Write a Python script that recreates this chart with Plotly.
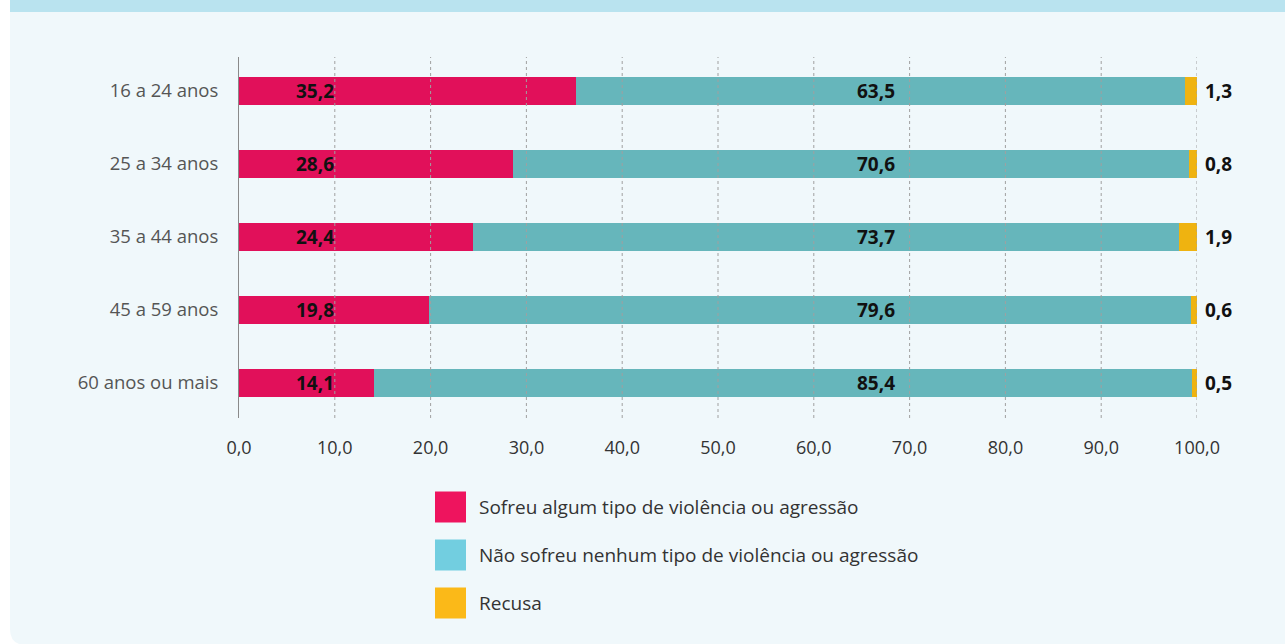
import plotly.graph_objects as go

# ---- data ----
categories = ["16 a 24 anos", "25 a 34 anos", "35 a 44 anos", "45 a 59 anos", "60 anos ou mais"]
sofreu = [35.2, 28.6, 24.4, 19.8, 14.1]
nao_sofreu = [63.5, 70.6, 73.7, 79.6, 85.4]
recusa = [1.3, 0.8, 1.9, 0.6, 0.5]
series_names = [
    "Sofreu algum tipo de violência ou agressão",
    "Não sofreu nenhum tipo de violência ou agressão",
    "Recusa",
]
x_ticks = [0, 10, 20, 30, 40, 50, 60, 70, 80, 90, 100]

# ---- style ----
W, H = 1285, 644
L, R, T, B = 239, 88, 57, 226
bar_colors = ["#e1105a", "#66b6bb", "#efb310"]
legend_colors = ["#ee145e", "#72cee0", "#fbb918"]
panel = "#f0f8fb"
band = "#b9e3ef"
FONT = "Open Sans"

pw, ph = W - L - R, H - T - B


def px(x):
    return (x - L) / pw


def py(y):
    return (H - B - y) / ph


fig = go.Figure()
for vals, name, col in zip([sofreu, nao_sofreu, recusa], series_names, bar_colors):
    fig.add_trace(go.Bar(
        y=categories, x=vals, orientation="h", name=name,
        marker=dict(color=col, line=dict(width=0)),
        width=0.385, showlegend=False, hoverinfo="skip",
    ))

annotations = []
lab_font = dict(family=FONT, size=19, color="#111111")


def fmt(v):
    return "<b>%s</b>" % f"{v:.1f}".replace(".", ",")


for cat, a, b, c in zip(categories, sofreu, nao_sofreu, recusa):
    annotations.append(dict(x=7.9, y=cat, xref="x", yref="y", text=fmt(a), showarrow=False,
                            xanchor="center", yanchor="middle", font=lab_font))
    annotations.append(dict(x=66.5, y=cat, xref="x", yref="y", text=fmt(b), showarrow=False,
                            xanchor="center", yanchor="middle", font=lab_font))
    annotations.append(dict(x=px(1203), y=cat, xref="paper", yref="y", text=fmt(c), showarrow=False,
                            xanchor="left", yanchor="middle", font=lab_font))

shapes = []
# background panel with rounded bottom-left corner
r = 16
x0, x1 = px(10), px(W + 5)
y0, y1 = py(12), py(645)
rx, ry = r / pw, r / ph
path = (f"M {x0},{y0} L {x1},{y0} L {x1},{y1} L {x0+rx},{y1} "
        f"Q {x0},{y1} {x0},{y1+ry} Z")
shapes.append(dict(type="path", path=path, xref="paper", yref="paper",
                   fillcolor=panel, line=dict(width=0), layer="below"))
shapes.append(dict(type="rect", xref="paper", yref="paper", x0=px(10), x1=px(W + 5),
                   y0=py(0), y1=py(12), fillcolor=band, line=dict(width=0), layer="below"))

# dotted gridlines drawn above the bars
for t in x_ticks[1:]:
    shapes.append(dict(type="line", xref="x", yref="paper", x0=t, x1=t, y0=0, y1=1,
                       line=dict(color="#a0a0a0", width=1, dash="dot"), layer="above"))

# custom legend
leg_y = [507, 555, 603]
for name, col, yc in zip(series_names, legend_colors, leg_y):
    shapes.append(dict(type="rect", xref="paper", yref="paper",
                       x0=px(435), x1=px(466), y0=py(yc - 15.5), y1=py(yc + 15.5),
                       fillcolor=col, line=dict(width=0)))
    annotations.append(dict(x=px(477), y=py(yc), xref="paper", yref="paper", text=name,
                            showarrow=False, xanchor="left", yanchor="middle",
                            font=dict(family=FONT, size=19, color="#333333")))

fig.update_layout(
    width=W, height=H,
    margin=dict(l=L, r=R, t=T, b=B, pad=0),
    barmode="stack",
    paper_bgcolor="white",
    plot_bgcolor="rgba(0,0,0,0)",
    separators=", ",
    shapes=shapes,
    annotations=annotations,
    font=dict(family=FONT, size=18, color="#333333"),
    xaxis=dict(
        range=[0, 100], tickvals=x_ticks, tickformat=".1f", showgrid=False,
        zeroline=False, showline=False, ticks="", ticklabelstandoff=17,
        tickfont=dict(family=FONT, size=18, color="#333333"), fixedrange=True,
    ),
    yaxis=dict(
        categoryorder="array", categoryarray=categories, range=[4.48, -0.466],
        showgrid=False, zeroline=False, showline=True, linecolor="#8a8a8a", linewidth=1,
        ticks="", ticklabelstandoff=16,
        tickfont=dict(family=FONT, size=18.5, color="#555555"), fixedrange=True,
    ),
)

fig.write_html(
    "out.html",
    config={"displayModeBar": False},
    post_script="document.body.style.margin='0';document.body.style.overflow='hidden';",
)
